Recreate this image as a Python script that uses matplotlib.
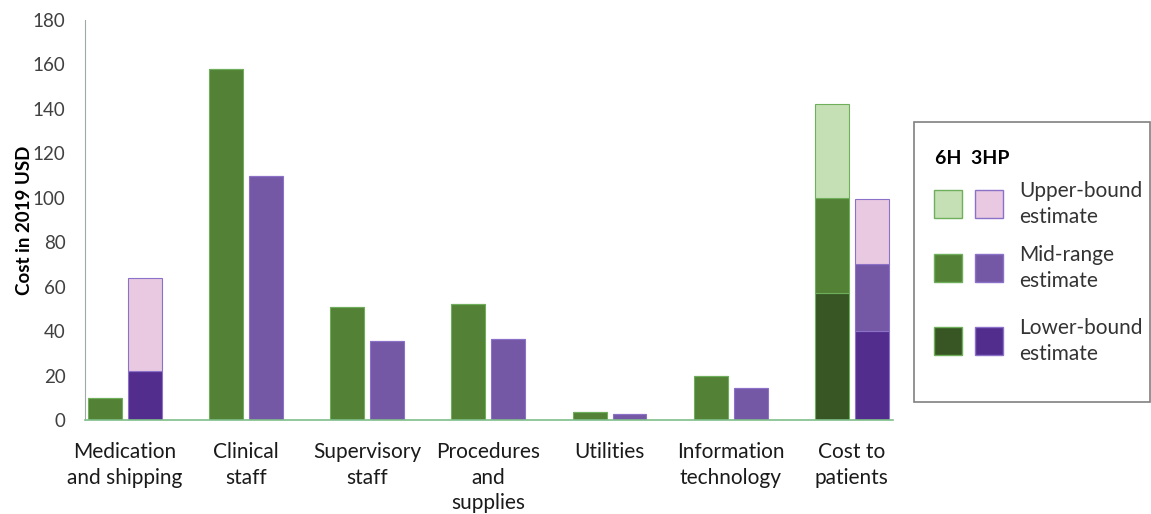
import numpy as np
import matplotlib.pyplot as plt
from matplotlib.patches import Rectangle

plt.rcParams['font.family'] = ['Lato', 'DejaVu Sans']

categories = ["Medication\nand shipping", "Clinical\nstaff", "Supervisory\nstaff",
              "Procedures\nand\nsupplies", "Utilities", "Information\ntechnology",
              "Cost to\npatients"]

# 6H values (lower-bound part, extra up to mid, extra up to upper)
h6_lower = [0, 0, 0, 0, 0, 0, 57]
h6_mid = [10, 158, 51, 52, 3.5, 20, 100]
h6_upper = [10, 158, 51, 52, 3.5, 20, 142]

# 3HP values
hp_lower = [22, 0, 0, 0, 0, 0, 40]
hp_mid = [22, 110, 35.5, 36.5, 2.5, 14.5, 70]
hp_upper = [64, 110, 35.5, 36.5, 2.5, 14.5, 99.5]

g_light, g_mid, g_dark = "#C5E0B4", "#538135", "#375623"
p_light, p_mid, p_dark = "#E8C9E1", "#7558A5", "#522D8E"
g_edge, p_edge = "#6FAE5A", "#8B72C8"

fig = plt.figure(figsize=(11.51, 5.14), dpi=100)
ax = fig.add_axes([85 / 1151, 1 - 420 / 514, (893 - 85) / 1151, 400 / 514])

x = np.arange(len(categories))
w = 0.28
off = 0.165

h6_lower = np.array(h6_lower, float)
h6_mid = np.array(h6_mid, float)
h6_upper = np.array(h6_upper, float)
hp_lower = np.array(hp_lower, float)
hp_mid = np.array(hp_mid, float)
hp_upper = np.array(hp_upper, float)

# 6H bars
ax.bar(x - off, h6_lower, w, color=g_dark, edgecolor=g_edge, linewidth=0.8)
ax.bar(x - off, h6_mid - h6_lower, w, bottom=h6_lower, color=g_mid, edgecolor=g_edge, linewidth=0.8)
ax.bar(x - off, h6_upper - h6_mid, w, bottom=h6_mid, color=g_light, edgecolor=g_edge, linewidth=0.8)

# 3HP bars
ax.bar(x + off, hp_lower, w, color=p_dark, edgecolor=p_edge, linewidth=0.8)
ax.bar(x + off, hp_mid - hp_lower, w, bottom=hp_lower, color=p_mid, edgecolor=p_edge, linewidth=0.8)
ax.bar(x + off, hp_upper - hp_mid, w, bottom=hp_mid, color=p_light, edgecolor=p_edge, linewidth=0.8)

ax.set_xlim(-0.33, 6.34)
ax.set_ylim(0, 180)
ax.set_yticks(range(0, 181, 20))
ax.set_xticks(x)
ax.set_xticklabels(categories, fontsize=15, color="#1a1a1a", linespacing=1.33)
ax.tick_params(axis="y", labelsize=13.5, colors="#404040", length=0, pad=14)
ax.tick_params(axis="x", length=0, pad=16)
ax.set_ylabel("Cost in 2019 USD", fontsize=13.5, fontweight="bold", labelpad=0)

for s in ["top", "right"]:
    ax.spines[s].set_visible(False)
ax.spines["left"].set_color("#A0A8A8")
ax.spines["bottom"].set_color("#7FBF8A")
ax.spines["bottom"].set_linewidth(1.2)

# legend box
def fx(px):
    return px / 1151

def fy(py):
    return 1 - py / 514

fig.add_artist(Rectangle((fx(914), fy(402)), fx(1150) - fx(914), fy(122) - fy(402),
                         transform=fig.transFigure, fill=False, edgecolor="#808080", linewidth=1.2))
fig.text(fx(935), fy(158), "6H  3HP", fontsize=14, fontweight="bold", va="center")
rows = [(204, g_light, p_light, "Upper-bound\nestimate"),
        (268, g_mid, p_mid, "Mid-range\nestimate"),
        (341, g_dark, p_dark, "Lower-bound\nestimate")]
for cy, gc, pc, lab in rows:
    fig.add_artist(Rectangle((fx(934), fy(cy + 14)), fx(28), 28 / 514, transform=fig.transFigure,
                             facecolor=gc, edgecolor=g_edge, linewidth=1))
    fig.add_artist(Rectangle((fx(975), fy(cy + 14)), fx(28), 28 / 514, transform=fig.transFigure,
                             facecolor=pc, edgecolor=p_edge, linewidth=1))
    fig.text(fx(1019), fy(cy), lab, fontsize=15, color="#333333", va="center", linespacing=1.4)

fig.savefig("out.png", dpi=100)
